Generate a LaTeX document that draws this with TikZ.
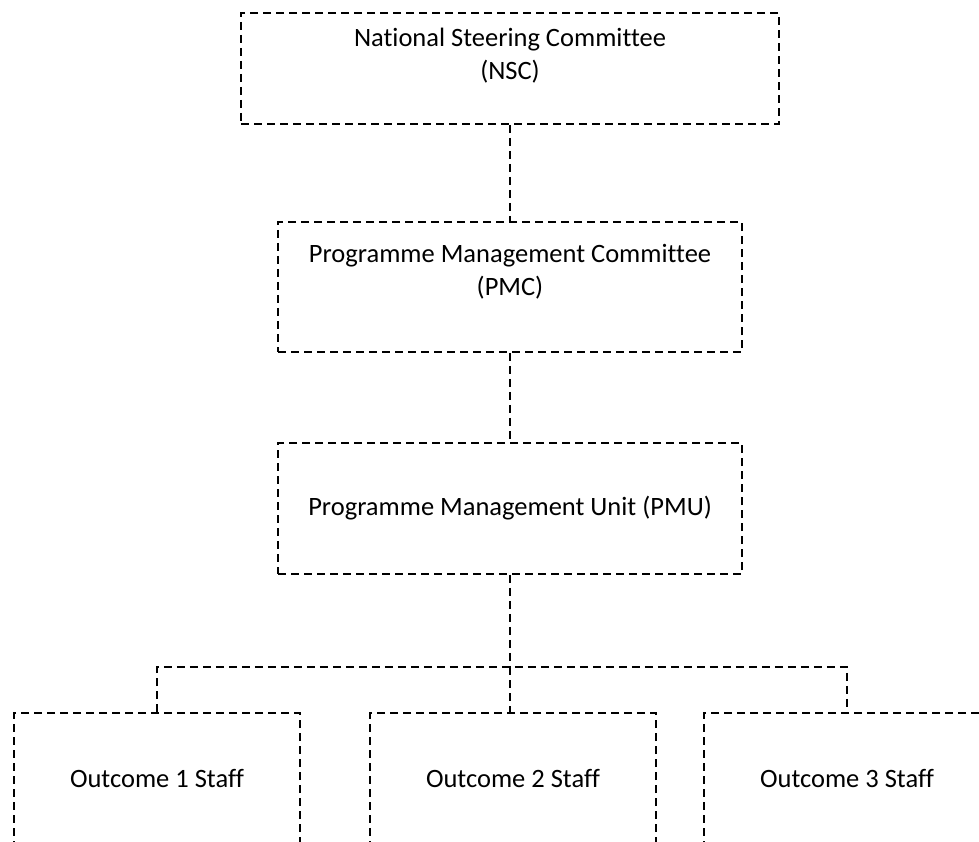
\documentclass[tikz,border=0pt]{standalone}
\usepackage{fontspec}
\setmainfont{Carlito}[Ligatures=NoCommon]
\usetikzlibrary{positioning}

\begin{document}
\begin{tikzpicture}[x=1pt, y=-1pt, line width=1.8pt,
  box/.style={draw, dash pattern=on 8pt off 5pt, inner sep=0pt,
    minimum width=#1, font=\fontsize{26.5}{33}\selectfont},
  txt/.style={inner sep=0pt, align=center, font=\fontsize{26.5}{#1}\selectfont},
  link/.style={draw, dash pattern=on 8pt off 5pt}]

  %% ==== boxes ====
  \node[box=538pt, minimum height=111pt] (nsc) at (510,68.5) {};
  \node[box=464pt, minimum height=130pt] (pmc) at (510,287) {};
  \node[box=464pt, minimum height=131pt] (pmu) at (510,508.5) {Programme Management Unit (PMU)};
  \node[box=286pt, minimum height=132pt] (out1) at (157,779) {Outcome 1 Staff};
  \node[box=286pt, minimum height=132pt] (out2) at (513,779) {Outcome 2 Staff};
  \node[box=286pt, minimum height=132pt] (out3) at (847,779) {Outcome 3 Staff};

  %% ==== texts at the top of the boxes ====
  \node[txt=33pt] (nsctext) at (510,56) {National Steering Committee\\(NSC)};
  \node[txt=33pt] (pmctext) at (510,272) {Programme Management Committee\\(PMC)};

  %% ==== connectors ====
  \coordinate (split) at (510,667);
  \draw[link] (nsc) -- (pmc);
  \draw[link] (pmc) -- (pmu);
  \draw[link] (pmu) -- (split);
  \draw[link] (out1.north) |- (split) -| (out3.north);
  \draw[link] (split) -- (split |- out2.north);

  % fix the canvas to the reference size
  \pgfresetboundingbox
  \path[use as bounding box] (0,0) rectangle (979,842);
\end{tikzpicture}
\end{document}
